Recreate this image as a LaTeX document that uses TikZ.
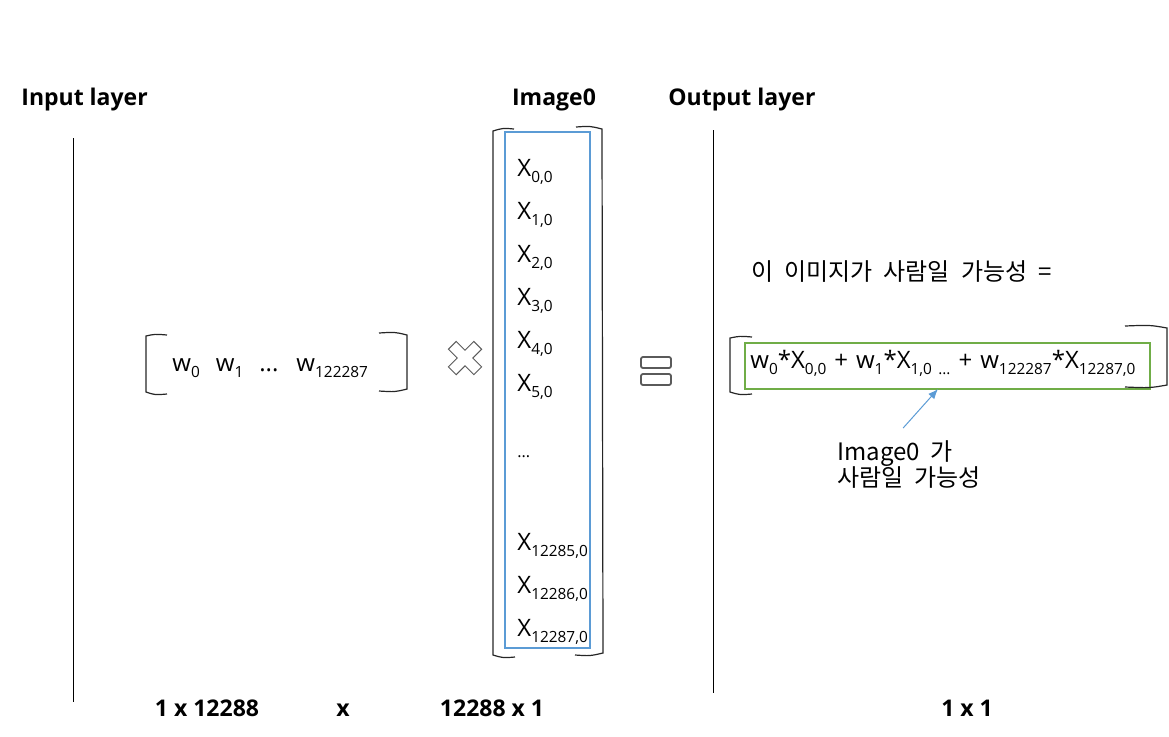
\documentclass[tikz,border=0pt]{standalone}
\usepackage{fontspec}
\setmainfont{Open Sans}
\newfontfamily\kr{Noto Sans CJK KR}
\usetikzlibrary{arrows.meta}
\definecolor{vecblue}{RGB}{91,155,213}
\definecolor{sumgreen}{RGB}{112,173,71}
\definecolor{signgray}{RGB}{90,90,90}
\newcommand{\low}[1]{\raisebox{-0.5ex}{\fontsize{7.7}{9}\selectfont #1}}
\newcommand{\gap}{\hspace{5.5pt}}
\newcommand{\plusop}{\hspace{4pt}+\hspace{4pt}}

\begin{document}
\begin{tikzpicture}[x=0.5pt,y=-0.5pt]
        \tikzstyle{every node}=[inner sep=0pt]
        \tikzstyle{head}=[font=\fontsize{11.5}{13}\selectfont\bfseries, anchor=base west]
        \tikzstyle{dim}=[font=\fontsize{11.5}{12}\selectfont\bfseries, anchor=base]
        \tikzstyle{entry}=[font=\fontsize{12}{14}\selectfont, anchor=base west]
        \tikzstyle{korean}=[font=\kr\fontsize{12}{13}\selectfont]
        \tikzstyle{bracket}=[line width=0.6pt, black!85]
        \useasboundingbox (0,0) rectangle (1169,736);

        \node   (inhead)   [head] at (21,105) {Input layer};
        \node   (imghead)  [head, anchor=base] at (554,105) {Image0};
        \node   (outhead)  [head] at (668,105) {Output layer};

        \draw[line width=0.5pt] (73,138) -- (73,702);
        \draw[line width=0.5pt] (713,130) -- (713,693);

        % weights
        \node   (wrow)  [entry] at (172,371) {w\low{0}\hspace{8pt}w\low{1}\hspace{8pt}...\hspace{9pt}w\low{122287}};
        \draw[bracket] (167,335) .. controls (155,334) .. (146,336) -- (146,392) .. controls (155,395) .. (167,394);
        \draw[bracket] (379,333) .. controls (395,332) .. (407,335) -- (407,389) .. controls (395,392) .. (379,391);

        \draw[signgray, line width=0.5pt, shift={(465,358)}, rotate=45]
            (5.5,18) -- (5.5,5.5) -- (18,5.5) -- (18,-5.5) -- (5.5,-5.5) -- (5.5,-18) -- (-5.5,-18) -- (-5.5,-5.5)
            -- (-18,-5.5) -- (-18,5.5) -- (-5.5,5.5) -- (-5.5,18) -- cycle;

        % image vector
        \draw[bracket] (514,129) .. controls (503,128) .. (493,131) -- (493,655) .. controls (503,658) .. (515,657);
        \draw[bracket] (576,127) .. controls (590,126) .. (602,129) -- (603,653) .. controls (590,656) .. (575,655);
        \draw[vecblue, line width=0.6pt] (505,132) rectangle (590,648);

        \node   (x0)    [entry] at (517,176) {X\low{0,0}};
        \node   (x1)    [entry] at (517,219) {X\low{1,0}};
        \node   (x2)    [entry] at (517,262) {X\low{2,0}};
        \node   (x3)    [entry] at (517,305) {X\low{3,0}};
        \node   (x4)    [entry] at (517,348) {X\low{4,0}};
        \node   (x5)    [entry] at (517,391) {X\low{5,0}};
        \node   (xdots) [entry, font=\fontsize{8}{9}\selectfont] at (517,457) {...};
        \node   (x12285) [entry] at (517,550) {X\low{12285,0}};
        \node   (x12286) [entry] at (517,593) {X\low{12286,0}};
        \node   (x12287) [entry] at (517,636) {X\low{12287,0}};

        \draw[signgray, line width=0.9pt, rounded corners=1pt] (641,357) rectangle (671,368);
        \draw[signgray, line width=0.9pt, rounded corners=1pt] (641,374) rectangle (671,385);

        % output
        \node   (question) [entry, korean] at (751,280) {이\gap 이미지가\gap 사람일\gap 가능성\gap =};
        \node   (sum)   [entry] at (750,368) {w\low{0}*X\low{0,0}\plusop w\low{1}*X\low{1,0} \low{...}\plusop w\low{122287}*X\low{12287,0}};
        \draw[sumgreen, line width=0.6pt] (745,343) rectangle (1150,389);
        \coordinate (tip) at (938,389);
        \draw[bracket] (752,337) .. controls (740,336) .. (730,338) -- (730,392) .. controls (740,395) .. (752,394);
        \draw[bracket] (1125,326) .. controls (1150,325) .. (1167,328) -- (1167,385) .. controls (1150,388) .. (1125,387);

        \node   (note)  [korean, align=left, anchor=north west] at (837,440) {Image0\gap 가\\사람일\gap 가능성};
        \draw[vecblue, line width=0.5pt, -{Latex[length=5pt,width=4pt]}] ([shift={(-6,-12)}]note.north) -- (tip);

        \node   (indim)  [dim] at (207,716) {1 x 12288};
        \node   (times)  [dim] at (343,716) {x};
        \node   (vecdim) [dim] at (492,716) {12288 x 1};
        \node   (outdim) [dim] at (967,716) {1 x 1};
    \end{tikzpicture}
\end{document}
